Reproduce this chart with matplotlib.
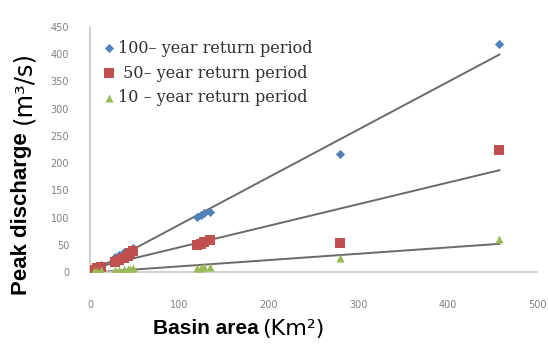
import numpy as np
import matplotlib.pyplot as plt

# basin area (km2) and peak discharge (m3/s)
area = [5, 8, 12, 28, 32, 38, 42, 45, 48, 120, 124, 128, 134, 280, 458]
q100 = [6, 9, 12, 28, 32, 36, 38, 40, 44, 101, 104, 108, 111, 217, 419]
q50 = [4, 7, 10, 18, 22, 26, 30, 34, 38, 49, 52, 55, 58, 54, 224]
q10 = [1, 2, 3, 3, 4, 5, 6, 6, 7, 7, 8, 9, 9, 25, 60]

labels = ['100\u2013 year return period', ' 50\u2013 year return period', '10 \u2013 year return period']
colors = ['#4F81BD', '#C0504D', '#9BBB59']
markers = ['D', 's', '^']
sizes = [22, 42, 34]

fig = plt.figure(figsize=(5.48, 3.47), dpi=100)
ax = fig.add_axes([90/548, 75/347, 447/548, 245/347])

x = np.array(area)
for q, c, m, s, lab in zip([q100, q50, q10], colors, markers, sizes, labels):
    ax.scatter(x, q, color=c, marker=m, s=s, label=lab, zorder=3, linewidths=0)
    k, b = np.polyfit(x, q, 1)
    xs = np.array([x.min(), x.max()])
    ax.plot(xs, k*xs + b, color='#6a6a6a', lw=1.4, zorder=2)

ax.set_xlim(0, 500)
ax.set_ylim(0, 450)
ax.set_xticks(range(0, 501, 100))
ax.set_yticks(range(0, 451, 50))
ax.tick_params(length=0, labelsize=7, labelcolor='#808080')
ax.tick_params(axis='y', pad=15)
ax.tick_params(axis='x', pad=20)
for sp in ['top', 'right']:
    ax.spines[sp].set_visible(False)
for sp in ['left', 'bottom']:
    ax.spines[sp].set_color('#c8c8c8')
    ax.spines[sp].set_linewidth(1.2)

ax.legend(loc='upper left', bbox_to_anchor=(0.01, 0.975), frameon=False,
          prop={'family': 'DejaVu Serif', 'size': 11.5},
          labelcolor='#303030', handletextpad=0.1, labelspacing=0.5,
          handlelength=1.0, borderaxespad=0)

# axis titles: bold part + wider parenthetical unit
fig.text(153/548, 18/347, 'Basin area', family='Liberation Sans', weight='bold',
         fontsize=15, ha='left', va='center')
fig.text(262/548, 18/347, '(Km\u00b2)', family='DejaVu Sans', fontsize=16,
         ha='left', va='center')
fig.text(22/548, 52/347, 'Peak discharge', family='Liberation Sans', weight='bold',
         fontsize=16, rotation=90, ha='center', va='bottom')
fig.text(23/548, 223/347, '(m\u00b3/s)', family='DejaVu Sans', fontsize=17.5,
         rotation=90, ha='center', va='bottom')

fig.savefig('out.png', dpi=100)
